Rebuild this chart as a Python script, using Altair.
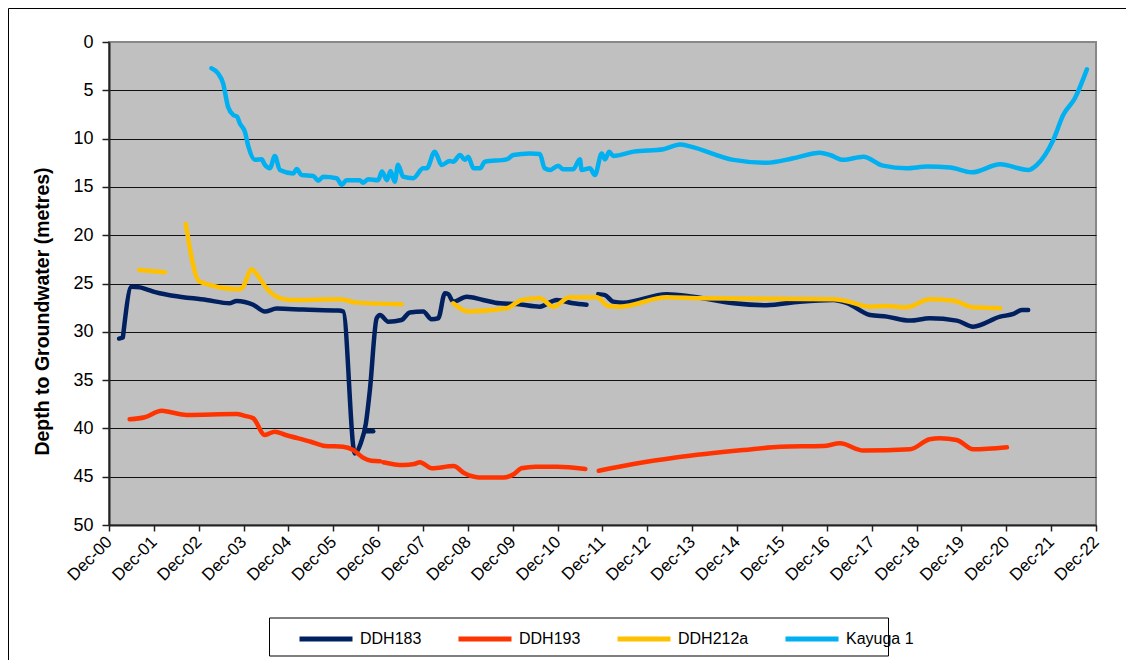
import altair as alt
import pandas as pd

SERIES = ["DDH183", "DDH193", "DDH212a", "Kayuga 1"]
COLORS = ["#002060", "#FF3300", "#FFC000", "#00B0F0"]

# ---------------- DDH183 (navy) ----------------
DDH183_A_DATES = ["2001-02-21", "2001-03-22"]
DDH183_A_DEPTH = [30.7, 30.6]
DDH183_B_DATES = ["2001-03-25", "2001-06-03", "2001-08-10", "2001-10-03", "2001-11-27",
                  "2002-05-06", "2003-02-03", "2003-08-12", "2003-10-06", "2004-02-18",
                  "2004-05-22", "2004-08-27", "2005-04-01", "2006-01-10", "2006-02-20",
                  "2006-05-25", "2006-07-13", "2006-08-23", "2006-09-25", "2006-11-19",
                  "2006-12-16", "2007-02-22", "2007-06-09", "2007-08-16", "2007-12-03",
                  "2008-02-09", "2008-04-03", "2008-05-28", "2008-06-24", "2008-08-03",
                  "2008-11-21", "2009-04-03", "2009-08-18", "2010-01-03", "2010-07-09",
                  "2010-11-24", "2011-04-06", "2011-07-24"]
DDH183_B_DEPTH = [30.5, 25.33, 25.4, 25.6, 25.85,
                  26.26, 26.7, 27.05, 26.8, 27.2,
                  27.9, 27.6, 27.7, 27.8, 27.9,
                  42.6, 41.5, 39.5, 36.0, 28.6,
                  28.26, 28.95, 28.78, 28.0, 27.9,
                  28.7, 28.6, 26.0, 26.1, 26.88,
                  26.37, 26.7, 27.05, 27.12, 27.4,
                  26.7, 27.05, 27.2]
DDH183_C_DATES = ["2006-08-15", "2006-10-22"]
DDH183_C_DEPTH = [40.3, 40.3]
DDH183_D_DATES = ["2011-10-28", "2011-12-22", "2012-02-27", "2012-05-18", "2013-05-06",
                  "2013-12-09", "2014-11-01", "2015-07-28", "2016-04-24", "2017-01-24",
                  "2017-05-09", "2017-11-18", "2018-04-03", "2018-10-09", "2019-03-18",
                  "2019-10-24", "2020-03-06", "2020-10-12", "2021-01-28", "2021-04-06",
                  "2021-05-28"]
DDH183_D_DEPTH = [26.1, 26.2, 26.88, 26.98, 26.1,
                  26.37, 27.05, 27.25, 26.88, 26.7,
                  27.0, 28.26, 28.43, 28.84, 28.6,
                  28.84, 29.47, 28.43, 28.15, 27.74,
                  27.74]

# ---------------- DDH193 (red) ----------------
DDH193_A_DATES = ["2001-05-18", "2001-09-18", "2002-02-03", "2002-04-09", "2002-08-24",
                  "2003-10-06", "2003-12-12", "2004-02-18", "2004-05-22", "2004-08-12",
                  "2004-11-09", "2005-06-01", "2005-09-24", "2006-02-18", "2006-05-12",
                  "2006-08-09", "2006-10-06", "2006-12-16"]
DDH193_A_DEPTH = [39.06, 38.85, 38.17, 38.3, 38.6,
                  38.5, 38.7, 38.95, 40.68, 40.34,
                  40.68, 41.38, 41.82, 41.9, 42.24,
                  43.1, 43.34, 43.4]
DDH193_B_DATES = ["2007-01-12", "2007-06-22", "2007-09-21", "2007-11-06", "2008-02-12",
                  "2008-08-06", "2008-11-03", "2009-02-27", "2009-09-18", "2009-12-12",
                  "2010-02-09", "2010-06-06", "2010-11-27", "2011-07-15"]
DDH193_B_DEPTH = [43.5, 43.8, 43.69, 43.5, 44.13,
                  43.9, 44.65, 45.07, 45.07, 44.72,
                  44.13, 43.96, 43.96, 44.2]
DDH193_C_DATES = ["2011-11-01", "2012-08-10", "2013-08-03", "2015-01-24", "2015-11-21",
                  "2016-11-03", "2017-03-18", "2017-09-24", "2018-10-09", "2019-03-18",
                  "2019-06-09", "2019-10-24", "2020-03-06", "2020-12-06"]
DDH193_C_DEPTH = [44.38, 43.69, 42.99, 42.24, 41.9,
                  41.82, 41.55, 42.3, 42.17, 41.13,
                  41.03, 41.2, 42.17, 41.96]

# ---------------- DDH212a (yellow) ----------------
DDH212A_A_DATES = ["2001-08-04", "2002-03-01"]
DDH212A_A_DEPTH = [23.6, 23.84]
DDH212A_B_DATES = ["2002-08-18", "2002-12-07", "2003-11-01", "2003-11-28", "2004-02-06",
                   "2004-03-15", "2004-06-06", "2004-08-27", "2004-12-13", "2006-01-24",
                   "2006-06-09", "2007-06-09"]
DDH212A_B_DEPTH = [18.84, 24.8, 25.6, 25.33, 23.53,
                   24.0, 25.5, 26.37, 26.7, 26.64,
                   26.98, 27.15]
DDH212A_C_DATES = ["2008-08-03", "2008-12-03", "2009-10-12", "2010-02-12", "2010-07-09",
                   "2010-10-27", "2011-03-10", "2011-10-15", "2012-01-18", "2012-04-21",
                   "2013-05-06", "2014-02-03", "2017-01-24", "2017-04-15", "2017-11-18",
                   "2018-04-03", "2018-09-12", "2019-03-18", "2019-09-27", "2020-03-06",
                   "2020-10-12"]
DDH212A_C_DEPTH = [27.05, 27.9, 27.57, 26.7, 26.53,
                   27.4, 26.43, 26.43, 27.33, 27.4,
                   26.43, 26.53, 26.64, 26.75, 27.4,
                   27.33, 27.47, 26.64, 26.78, 27.47,
                   27.57]

# ---------------- Kayuga 1 (light blue) ----------------
KAYUGA_DATES = ["2003-03-15", "2003-05-07", "2003-06-18", "2003-07-28", "2003-09-10",
                "2003-10-10", "2003-11-01", "2003-12-12", "2004-01-10", "2004-03-03",
                "2004-04-27", "2004-05-22", "2004-07-03", "2004-08-12", "2004-09-22",
                "2005-01-10", "2005-02-06", "2005-03-18", "2005-06-21", "2005-08-01",
                "2005-09-10", "2005-12-28", "2006-02-08", "2006-03-18", "2006-07-04",
                "2006-08-01", "2006-09-12", "2006-12-01", "2007-01-01", "2007-02-10",
                "2007-03-12", "2007-04-15", "2007-05-12", "2007-06-22", "2007-09-12",
                "2007-12-03", "2008-01-01", "2008-03-06", "2008-05-01", "2008-07-06",
                "2008-08-03", "2008-09-28", "2008-11-06", "2008-12-03", "2009-01-15",
                "2009-03-10", "2009-04-18", "2009-10-12", "2009-12-06", "2010-04-18",
                "2010-07-09", "2010-08-18", "2010-10-01", "2010-12-06", "2011-01-15",
                "2011-04-06", "2011-06-01", "2011-06-15", "2011-08-21", "2011-10-01",
                "2011-11-25", "2011-12-22", "2012-01-25", "2012-02-27", "2012-08-10",
                "2013-04-10", "2013-08-25", "2013-11-12", "2014-11-01", "2015-07-28",
                "2016-03-03", "2016-10-06", "2016-12-27", "2017-04-12", "2017-09-24",
                "2018-03-03", "2018-09-12", "2019-02-24", "2019-09-01", "2020-02-24",
                "2020-10-12", "2021-05-28", "2021-08-06", "2021-12-18", "2022-03-09",
                "2022-06-12", "2022-09-18"]
KAYUGA_DEPTH = [2.72, 3.24, 4.28, 6.7, 7.56,
                7.73, 8.42, 9.28, 10.84, 12.2,
                12.15, 12.7, 13.07, 11.8, 13.25,
                13.6, 13.15, 13.77, 13.87, 14.36,
                13.94, 14.1, 14.8, 14.3, 14.3,
                14.56, 14.2, 14.3, 13.4, 14.3,
                13.35, 14.46, 12.7, 13.94, 14.1,
                13.07, 13.07, 11.35, 12.73, 12.32,
                12.39, 11.7, 12.2, 11.87, 13.07,
                13.07, 12.39, 12.15, 11.7, 11.53,
                11.6, 13.07, 13.25, 12.8, 13.18,
                13.18, 12.15, 13.25, 13.07, 13.77,
                11.53, 12.15, 11.35, 11.8, 11.35,
                11.1, 10.6, 10.8, 12.2, 12.5,
                12.04, 11.46, 11.7, 12.2, 11.87,
                12.8, 13.07, 12.9, 13.0, 13.49,
                12.66, 13.25, 12.73, 10.14, 7.56,
                5.83, 2.83]

SEGMENTS = [
    ("DDH183", "183a", DDH183_A_DATES, DDH183_A_DEPTH),
    ("DDH183", "183b", DDH183_B_DATES, DDH183_B_DEPTH),
    ("DDH183", "183c", DDH183_C_DATES, DDH183_C_DEPTH),
    ("DDH183", "183d", DDH183_D_DATES, DDH183_D_DEPTH),
    ("DDH193", "193a", DDH193_A_DATES, DDH193_A_DEPTH),
    ("DDH193", "193b", DDH193_B_DATES, DDH193_B_DEPTH),
    ("DDH193", "193c", DDH193_C_DATES, DDH193_C_DEPTH),
    ("DDH212a", "212a", DDH212A_A_DATES, DDH212A_A_DEPTH),
    ("DDH212a", "212b", DDH212A_B_DATES, DDH212A_B_DEPTH),
    ("DDH212a", "212c", DDH212A_C_DATES, DDH212A_C_DEPTH),
    ("Kayuga 1", "kay", KAYUGA_DATES, KAYUGA_DEPTH),
]

rows = []
for series, seg, dates, depths in SEGMENTS:
    for d, v in zip(dates, depths):
        rows.append({"series": series, "seg": seg, "date": d, "depth": v})
df = pd.DataFrame(rows)

FONT = "Liberation Sans"
x_ticks = [alt.DateTime(year=y, month=12, date=1, utc=True) for y in range(2000, 2023)]

lines = alt.Chart(df).mark_line(
    strokeWidth=4.5, strokeCap="round", strokeJoin="round", interpolate="monotone"
).encode(
    x=alt.X("date:T",
            scale=alt.Scale(type="utc", domain=[x_ticks[0], x_ticks[-1]], nice=False),
            axis=alt.Axis(values=x_ticks, labelExpr="utcFormat(datum.value, '%b-%y')",
                          title=None, grid=False, labelAngle=-45, labelAlign="right",
                          labelBaseline="middle", labelFontSize=17, labelPadding=8,
                          tickSize=6, labelOverlap=False)),
    y=alt.Y("depth:Q",
            scale=alt.Scale(domain=[0, 50], reverse=True, nice=False, zero=False),
            axis=alt.Axis(values=list(range(0, 51, 5)), title="Depth to Groundwater (metres)",
                          labelFontSize=18, labelPadding=9, tickSize=7,
                          titleFontSize=19.5, titleFontWeight="bold", titleX=-67, titleY=269,
                          titleAngle=270, titleAlign="center", titleBaseline="middle",
                          gridColor=alt.condition("datum.value === 0", alt.value("#888888"), alt.value("#111111")))),
    color=alt.Color("series:N", scale=alt.Scale(domain=SERIES, range=COLORS),
                    legend=alt.Legend(orient="none", legendX=188, legendY=568,
                                      direction="horizontal", columns=4, title=None,
                                      symbolType="stroke", symbolSize=2809, symbolStrokeWidth=5,
                                      labelFontSize=16, labelFont=FONT, labelColor="black",
                                      labelOffset=5, columnPadding=26, padding=0)),
    detail="seg:N",
)

frame = pd.DataFrame({"k": [0]})
top_border = alt.Chart(frame).mark_rule(color="black", strokeWidth=1).encode(
    x=alt.value(-100.5), x2=alt.value(1020), y=alt.value(-33.5))
left_border = alt.Chart(frame).mark_rule(color="black", strokeWidth=1).encode(
    x=alt.value(-100.5), y=alt.value(-33.5), y2=alt.value(620))
legend_box = alt.Chart(frame).mark_rect(fill="white", stroke="black", strokeWidth=1).encode(
    x=alt.value(160.5), x2=alt.value(779.5), y=alt.value(576), y2=alt.value(614))

chart = alt.layer(lines, top_border, left_border, legend_box).properties(
    width=987, height=483,
    autosize=alt.AutoSizeParams(type="none"),
    padding={"left": 101, "top": 34, "right": 30, "bottom": 135},
).configure_view(
    fill="#C0C0C0", stroke="#888888", strokeWidth=2
).configure_axis(
    labelFont=FONT, titleFont=FONT, labelColor="black", titleColor="black",
    domainColor="#222222", domainWidth=2, tickColor="#222222", tickWidth=1.5,
    gridWidth=1
)

chart.save("out.html", embed_options={"renderer": "svg", "actions": False})
